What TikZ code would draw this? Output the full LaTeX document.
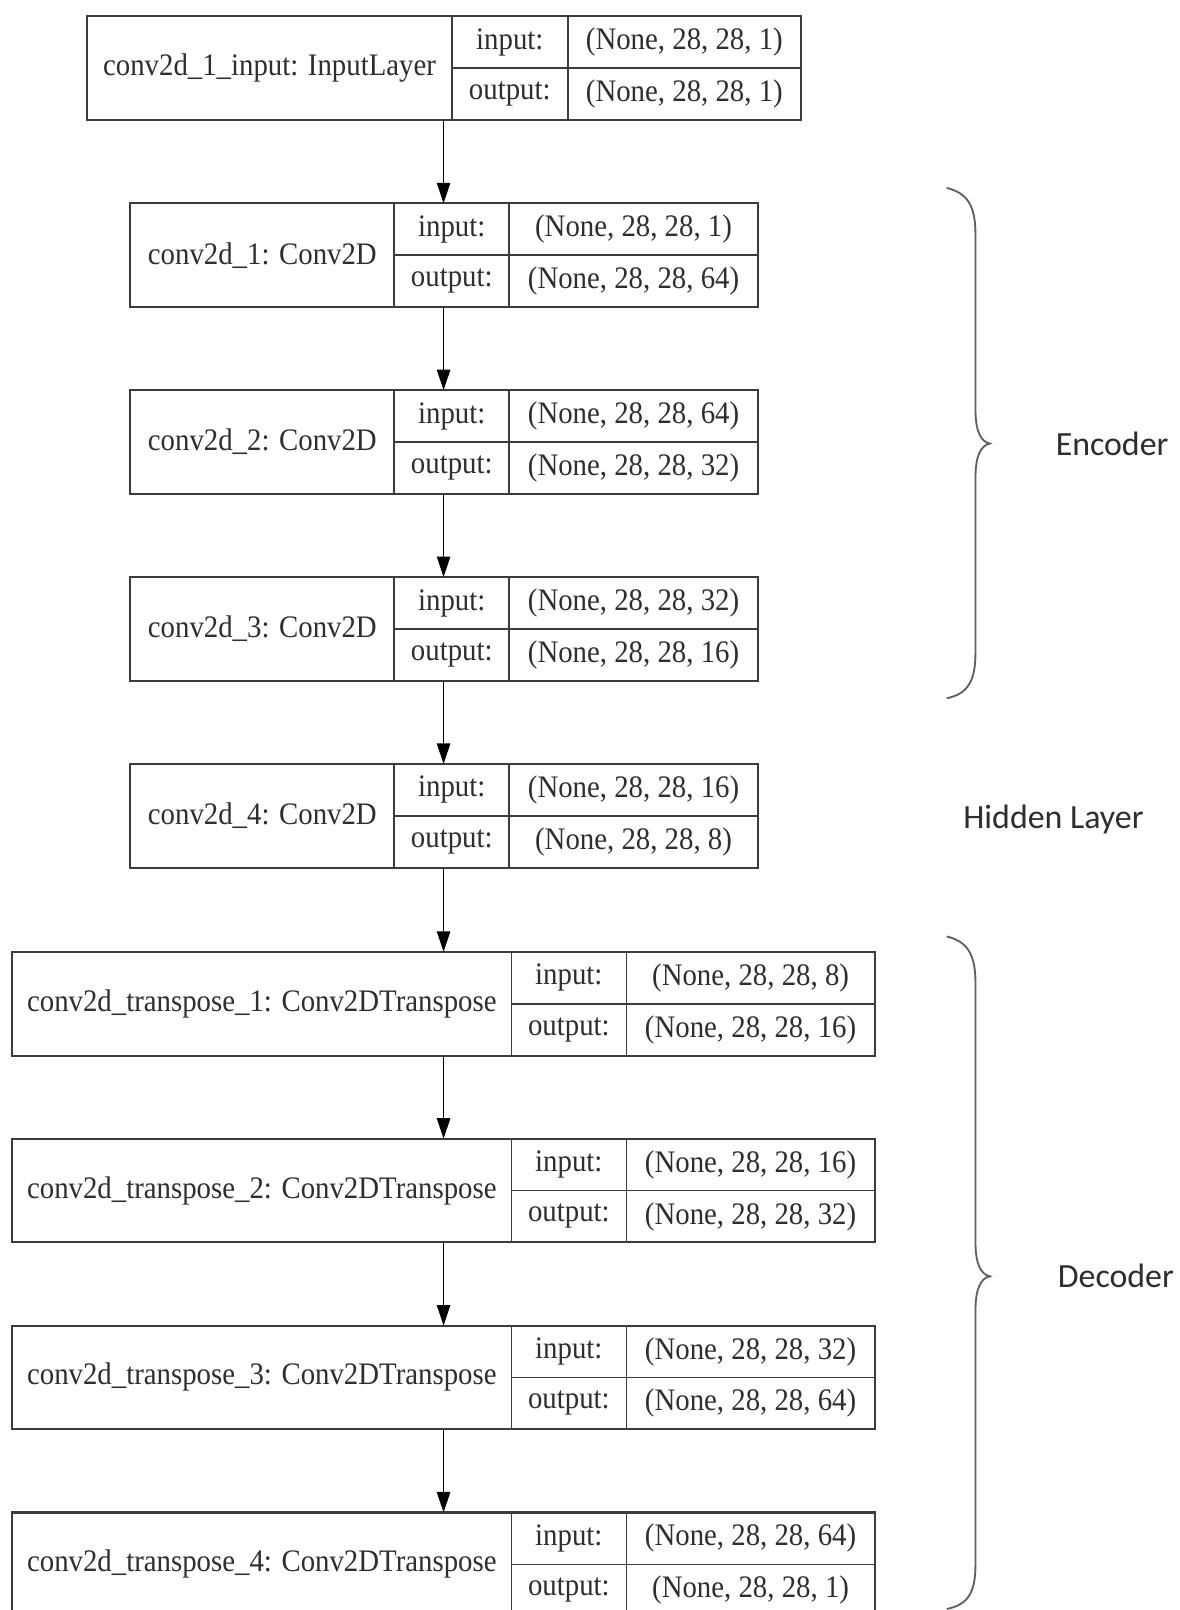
\documentclass[tikz,border=0pt]{standalone}
\usepackage{fontspec}
\setmainfont{Liberation Serif}
\newfontfamily\boxf[FakeStretch=0.92]{Liberation Serif}
\newfontfamily\sansf{Carlito}
\usetikzlibrary{arrows.meta}
\definecolor{linec}{HTML}{3C3C3C}
\definecolor{textc}{HTML}{2E2E2E}
\definecolor{bracec}{HTML}{606060}
\tikzset{
  frame/.style={draw=linec, line width=2pt, inner sep=0pt, outer sep=0pt},
  cell/.style={draw=linec, line width=1.6pt, inner sep=0pt, outer sep=0pt, text=textc,
    font=\boxf\fontsize{30.5}{32}\selectfont},
  arr/.style={draw=black, line width=1.6pt, -{Triangle[length=20pt,width=13pt]}},
  bracepath/.style={draw=bracec, line width=1.8pt},
  side/.style={font=\sansf\fontsize{33}{36}\selectfont, text=textc, inner sep=0pt}
}
% #1 name, #2 L, #3 C1, #4 C2, #5 R, #6 T, #7 label, #8 in, #9 out
\newcommand\lyr[9]{%
  \node[cell, minimum width={(#3-#2)*1pt}, minimum height=101pt, anchor=north west] (#1-name) at (#2,#6) {#7};
  \node[cell, minimum width={(#4-#3)*1pt}, minimum height=50.5pt, anchor=north west] (#1-ik) at (#3,#6) {input:};
  \node[cell, minimum width={(#5-#4)*1pt}, minimum height=50.5pt, anchor=north west] (#1-iv) at (#4,#6) {#8};
  \node[cell, minimum width={(#4-#3)*1pt}, minimum height=50.5pt, anchor=north west] (#1-ok) at (#3,#6+50.5) {output:};
  \node[cell, minimum width={(#5-#4)*1pt}, minimum height=50.5pt, anchor=north west] (#1-ov) at (#4,#6+50.5) {#9};
  \node[frame, minimum width={(#5-#2)*1pt}, minimum height=101pt, anchor=north west] (#1) at (#2,#6) {};
}
\begin{document}
\begin{tikzpicture}[x=1pt, y=-1pt]
\clip (0,0) rectangle (1149,1568);
\fill[white] (0,0) rectangle (1149,1568);

\lyr{L0}{85}{440}{553}{780}{16}{conv2d\_1\_input: InputLayer}{(None, 28, 28, 1)}{(None, 28, 28, 1)}
\lyr{L1}{127}{384}{496}{738}{198}{conv2d\_1: Conv2D}{(None, 28, 28, 1)}{(None, 28, 28, 64)}
\lyr{L2}{127}{384}{496}{738}{380}{conv2d\_2: Conv2D}{(None, 28, 28, 64)}{(None, 28, 28, 32)}
\lyr{L3}{127}{384}{496}{738}{562}{conv2d\_3: Conv2D}{(None, 28, 28, 32)}{(None, 28, 28, 16)}
\lyr{L4}{127}{384}{496}{738}{744}{conv2d\_4: Conv2D}{(None, 28, 28, 16)}{(None, 28, 28, 8)}
\lyr{L5}{12}{498}{610}{852}{927}{conv2d\_transpose\_1: Conv2DTranspose}{(None, 28, 28, 8)}{(None, 28, 28, 16)}
\lyr{L6}{12}{498}{610}{852}{1109}{conv2d\_transpose\_2: Conv2DTranspose}{(None, 28, 28, 16)}{(None, 28, 28, 32)}
\lyr{L7}{12}{498}{610}{852}{1291}{conv2d\_transpose\_3: Conv2DTranspose}{(None, 28, 28, 32)}{(None, 28, 28, 64)}
\lyr{L8}{12}{498}{610}{852}{1473}{conv2d\_transpose\_4: Conv2DTranspose}{(None, 28, 28, 64)}{(None, 28, 28, 1)}

\coordinate (ax) at (432,0);
\foreach \a/\b in {L0/L1,L1/L2,L2/L3,L3/L4,L4/L5,L5/L6,L6/L7,L7/L8}
  \draw[arr] (\a.south -| ax) -- (\b.north -| ax);

% Encoder brace
\draw[bracepath] (922,183) .. controls (942,188) and (950,200) .. (950,228) -- (950,398)
  .. controls (950,420) and (955,430) .. (964,432)
  .. controls (955,434) and (950,444) .. (950,466) -- (950,636)
  .. controls (950,664) and (942,676) .. (922,680);
\node[side, anchor=west] (enc) at (1028,432) {Encoder};

\node[side, anchor=west] (hid) at (938,798) {Hidden Layer};

% Decoder brace
\draw[bracepath] (922,912) .. controls (942,917) and (950,929) .. (950,957) -- (950,1209)
  .. controls (950,1231) and (955,1241) .. (964,1243)
  .. controls (955,1245) and (950,1255) .. (950,1277) -- (950,1524)
  .. controls (950,1552) and (942,1563) .. (922,1567);
\node[side, anchor=west] (dec) at (1030,1243) {Decoder};
\end{tikzpicture}
\end{document}
